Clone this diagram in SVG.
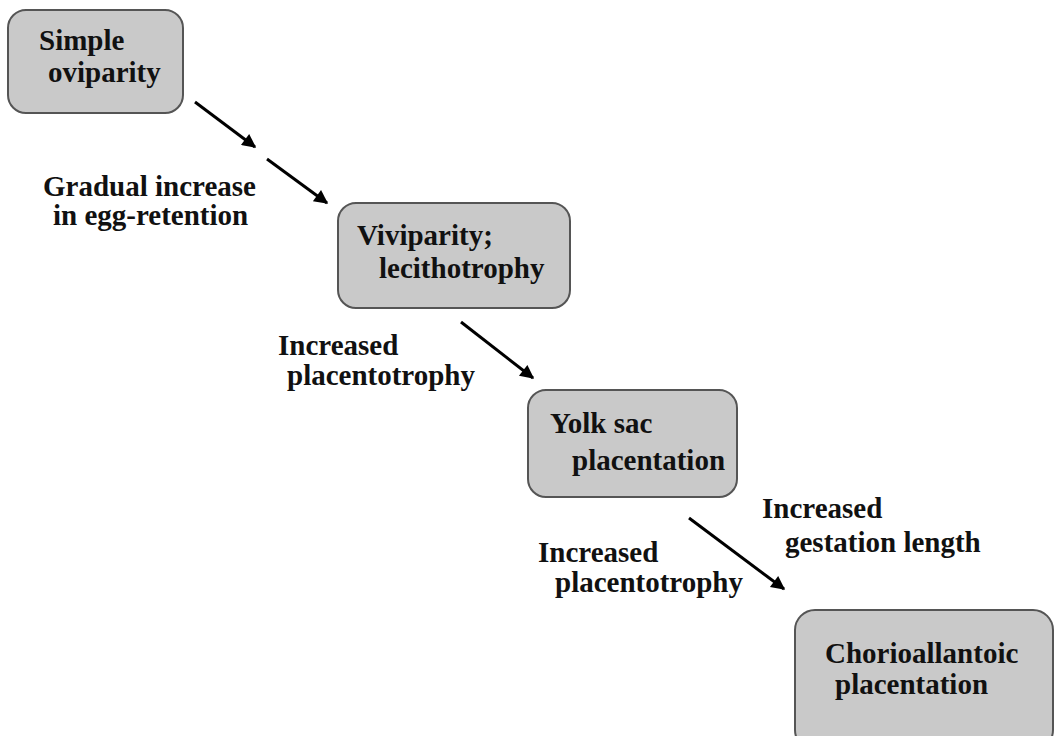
<svg xmlns="http://www.w3.org/2000/svg" width="1056" height="736" viewBox="0 0 1056 736">
<style>
.box{fill:#c9c9c9;stroke:#555;stroke-width:2}
.t{font-family:"Liberation Serif","Times New Roman",serif;font-weight:bold;font-size:29px;fill:#111}
.c{stroke:#000;stroke-width:3;fill:none;marker-end:url(#ah)}
</style>
<defs>
<marker id="ah" viewBox="0 0 10 10" refX="9" refY="5" markerWidth="6" markerHeight="4.6" orient="auto" markerUnits="strokeWidth">
<path d="M0,0 L10,5 L0,10 Z" fill="#000"/>
</marker>
</defs>
<rect width="1056" height="736" fill="#fff"/>
<g id="connectors">
<line class="c" x1="195" y1="102" x2="255" y2="147"/>
<line class="c" x1="267" y1="159" x2="327" y2="203"/>
<line class="c" x1="461" y1="322" x2="533" y2="378"/>
<line class="c" x1="689" y1="518" x2="784" y2="589"/>
</g>
<g id="node-simple-oviparity">
<rect class="box" x="8" y="10" width="175" height="103" rx="18"/>
<text class="t" x="39" y="50">Simple</text>
<text class="t" x="48" y="82">oviparity</text>
</g>
<g id="node-viviparity">
<rect class="box" x="338" y="203" width="232" height="105" rx="18"/>
<text class="t" x="357" y="245">Viviparity;</text>
<text class="t" x="379" y="278">lecithotrophy</text>
</g>
<g id="node-yolk-sac">
<rect class="box" x="528" y="390" width="209" height="107" rx="18"/>
<text class="t" x="550" y="433">Yolk sac</text>
<text class="t" x="572" y="470">placentation</text>
</g>
<g id="node-chorioallantoic">
<rect class="box" x="795" y="610" width="258" height="140" rx="20"/>
<text class="t" x="825" y="663">Chorioallantoic</text>
<text class="t" x="835" y="694">placentation</text>
</g>
<g id="labels">
<text class="t" x="43" y="196">Gradual increase</text>
<text class="t" x="53" y="225">in egg-retention</text>
<text class="t" x="278" y="355">Increased</text>
<text class="t" x="287" y="385">placentotrophy</text>
<text class="t" x="538" y="562">Increased</text>
<text class="t" x="555" y="592">placentotrophy</text>
<text class="t" x="762" y="518">Increased</text>
<text class="t" x="785" y="552">gestation length</text>
</g>
</svg>
